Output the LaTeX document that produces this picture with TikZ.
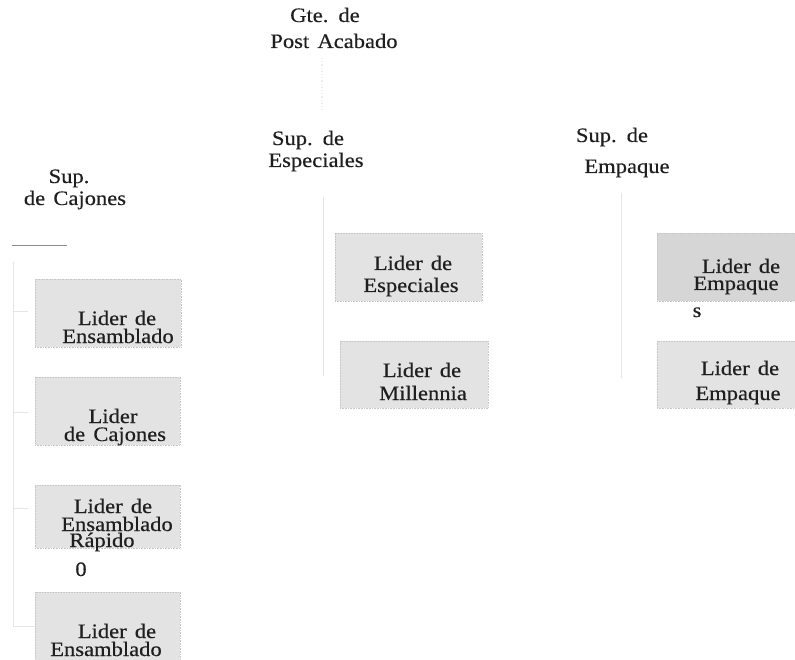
\documentclass[tikz,border=0pt]{standalone}
\usepackage{fontspec}
\setmainfont[FakeStretch=1.1,WordSpace=1.45,FakeBold=0.4]{Liberation Serif}
\begin{document}
\begin{tikzpicture}[x=1pt,y=-1pt,
  every node/.style={inner sep=0pt,outer sep=0pt},
  txt/.style={anchor=base,font=\fontsize{20.5}{20}\selectfont,text=black!88},
  leader/.style={draw=black!22,fill=black!11,line width=0.6pt,densely dotted,
    minimum width=#1,minimum height=68pt,anchor=north west},
  leader/.default=146pt,
  leaderdark/.style={leader=#1,fill=black!16},
  leaderdark/.default=146pt,
  link/.style={draw=black!10,line width=1pt},
  faint/.style={draw=black!7,line width=1.2pt}]
\useasboundingbox (0,0) rectangle (795,660);

% ---- head ----
\node[txt] (gte1) at (325,22) {Gte. de};
\node[txt] (gte2) at (334,48) {Post Acabado};
\coordinate (gtefoot) at (322,58);
\coordinate (gtedrop) at (322,112);
\draw[faint,dotted,line width=1.6pt] (gtefoot) -- (gtedrop);

% ---- supervisors ----
\node[txt] (espA) at (308,145) {Sup. de};
\node[txt] (espB) at (316,167) {Especiales};
\node[txt] (empA) at (612,142) {Sup. de};
\node[txt] (empB) at (627,173) {Empaque};
\node[txt] (cajA) at (69,183) {Sup.};
\node[txt] (cajB) at (75,205) {de Cajones};

\coordinate (cajL) at (12,245);
\coordinate (cajR) at (67,245);
\draw[draw=black!45,line width=0.9pt] (cajL) -- (cajR);

% ---- Cajones leaders ----
\node[leader] (b1) at (35,279) {};
\node[txt] (b1a) at (117,325) {Lider de};
\node[txt] (b1b) at (118,343) {Ensamblado};

\node[leader=145pt] (b2) at (35,377) {};
\node[txt] (b2a) at (113,423) {Lider};
\node[txt] (b2b) at (115,441) {de Cajones};

\node[leader=145pt,minimum height=63pt] (b3) at (35,485) {};
\node[txt] (b3a) at (113,513) {Lider de};
\node[txt] (b3b) at (117,531) {Ensamblado};
\node[txt] (b3c) at (102,547) {Rápido};
\node[txt] (b3d) at (81,576) {0};

\node[leader=145pt] (b4) at (35,592) {};
\node[txt] (b4a) at (117,638) {Lider de};
\node[txt] (b4b) at (106,656) {Ensamblado};

% Cajones spine
\coordinate (spT) at (13,262);
\coordinate (spB) at (13,626);
\coordinate (t1) at (28,312);
\coordinate (t2) at (28,412);
\coordinate (t3) at (28,508);
\draw[link] (spT) -- (spB) -- (b4.west |- spB);
\draw[link] (spT |- t1) -- (t1);
\draw[link] (spT |- t2) -- (t2);
\draw[link] (spT |- t3) -- (t3);

% ---- Especiales leaders ----
\node[leader=147pt] (b5) at (335,233) {};
\node[txt] (b5a) at (413,270) {Lider de};
\node[txt] (b5b) at (411,292) {Especiales};

\node[leader=148pt,minimum height=67pt] (b6) at (340,341) {};
\node[txt] (b6a) at (422,377) {Lider de};
\node[txt] (b6b) at (423,400) {Millennia};

\coordinate (espT) at (323,197);
\coordinate (espD) at (323,376);
\draw[link] (espT) -- (espD);

% ---- Empaque leaders ----
\node[leaderdark=140pt] (b7) at (657,233) {};
\node[txt] (b7a) at (741,273) {Lider de};
\node[txt] (b7b) at (736,290) {Empaque};
\node[txt] (b7c) at (697,317) {s};

\node[leader=140pt,minimum height=67pt] (b8) at (657,341) {};
\node[txt] (b8a) at (740,375) {Lider de};
\node[txt] (b8b) at (738,400) {Empaque};

\coordinate (empT) at (621,193);
\coordinate (empD) at (621,378);
\draw[link] (empT) -- (empD);
\end{tikzpicture}
\end{document}
